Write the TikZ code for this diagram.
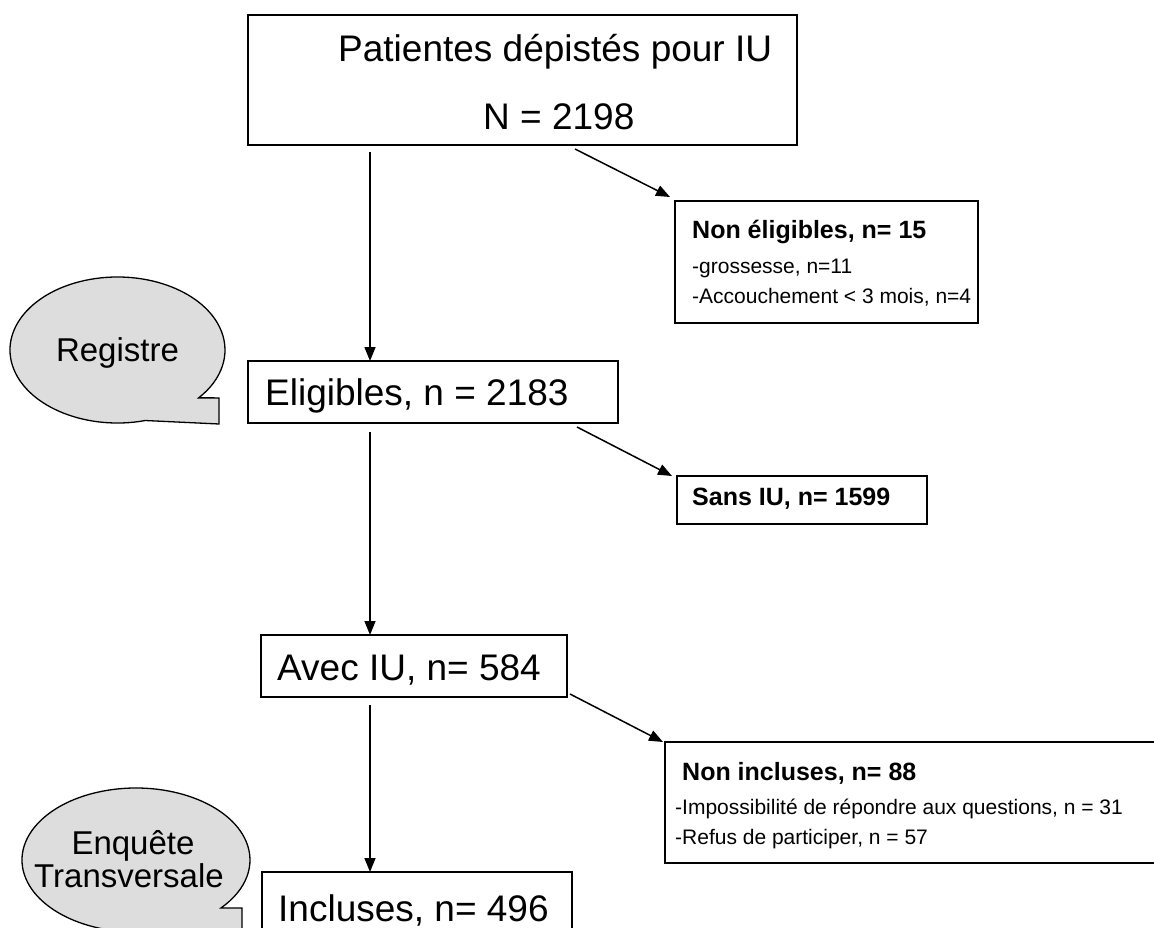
\documentclass[tikz,border=0pt]{standalone}
\usepackage{fontspec}
\setmainfont{Liberation Sans}
\usetikzlibrary{arrows.meta,calc}
\definecolor{bubblegray}{RGB}{221,221,221}
\begin{document}
\begin{tikzpicture}[x=1pt,y=1pt,
  box/.style={draw, line width=1.5pt, inner sep=0pt, outer sep=0pt, anchor=north west},
  txt/.style={inner sep=0pt, anchor=base west},
  big/.style={txt, font=\fontsize{37}{40}\selectfont},
  bubtxt/.style={inner sep=0pt, anchor=base, font=\fontsize{33}{36}\selectfont},
  boldtxt/.style={txt, font=\fontsize{25}{28}\selectfont\bfseries},
  small/.style={txt, font=\fontsize{21}{24}\selectfont},
  arr/.style={line width=1.5pt, -{Triangle[length=14pt,width=11pt]}},
  bubble/.style={draw, line width=1.3pt, fill=bubblegray},
  ]
\useasboundingbox (0,0) rectangle (1154,-928);

% callout bubbles
\coordinate (rc) at (117.5,-350);
\draw[bubble] ($(rc)+(-41:107.5pt and 73pt)$) -- (219,-397.9) -- (219,-424)
  -- ($(rc)+(-75:107.5pt and 73pt)$)
  arc[start angle=-75, end angle=-401, x radius=107.5pt, y radius=73pt] -- cycle;
\node[bubtxt] (reg) at (117.5,-361) {Registre};

\coordinate (ec) at (136,-860);
\draw[bubble] ($(ec)+(-41.8:114pt and 72pt)$) -- (242,-908) -- (242,-940)
  -- ($(ec)+(-75:114pt and 72pt)$)
  arc[start angle=-75, end angle=-401.8, x radius=114pt, y radius=72pt] -- cycle;
\node[bubtxt] (enq1) at (133,-854) {Enquête};
\node[bubtxt] (enq2) at (129,-887) {Transversale};

% main boxes
\node[box, minimum width=549pt, minimum height=130pt] (top) at (248,-15) {};
\node[big] (toptxt1) at (338,-62) {Patientes dépistés pour IU};
\node[big] (toptxt2) at (483,-130) {N = 2198};

\node[box, minimum width=370pt, minimum height=62pt] (elig) at (248,-361) {};
\node[big] (eligtxt) at (265,-405) {Eligibles, n = 2183};

\node[box, minimum width=306pt, minimum height=62pt] (avec) at (261,-635) {};
\node[big] (avectxt) at (277,-680) {Avec IU, n= 584};

\node[box, minimum width=310pt, minimum height=70pt] (incl) at (262,-872) {};
\node[big] (incltxt) at (278,-921) {Incluses, n= 496};

% side boxes
\node[box, minimum width=303pt, minimum height=122pt] (neli) at (675,-201) {};
\node[boldtxt] (nelit) at (692,-239) {Non éligibles, n= 15};
\node[small] (neli1) at (692,-273) {-grossesse, n=11};
\node[small] (neli2) at (692,-303) {-Accouchement < 3 mois, n=4};

\node[box, minimum width=250pt, minimum height=48pt] (sans) at (677,-476) {};
\node[boldtxt] (sanst) at (692,-505) {Sans IU, n= 1599};

\node[box, minimum width=500pt, minimum height=121pt] (ninc) at (665,-742) {};
\node[boldtxt] (ninct) at (682,-780) {Non incluses, n= 88};
\node[small] (ninc1) at (675,-814) {-Impossibilité de répondre aux questions, n = 31};
\node[small] (ninc2) at (675,-844) {-Refus de participer, n = 57};

% connectors
\coordinate (a1s) at (370,-152);
\draw[arr] (a1s) -- (a1s |- elig.north);
\coordinate (a2s) at (575,-149);
\draw[arr] (a2s) -- ([shift={(-5,4)}]neli.north west);
\coordinate (a3s) at (370,-432);
\draw[arr] (a3s) -- (a3s |- avec.north);
\coordinate (a4s) at (577,-427);
\draw[arr] (a4s) -- ([shift={(-5,0)}]sans.north west);
\coordinate (a5s) at (370,-705);
\draw[arr] (a5s) -- (a5s |- incl.north);
\coordinate (a6s) at (570,-694);
\draw[arr] (a6s) -- ([shift={(-2,0)}]ninc.north west);
\end{tikzpicture}
\end{document}
